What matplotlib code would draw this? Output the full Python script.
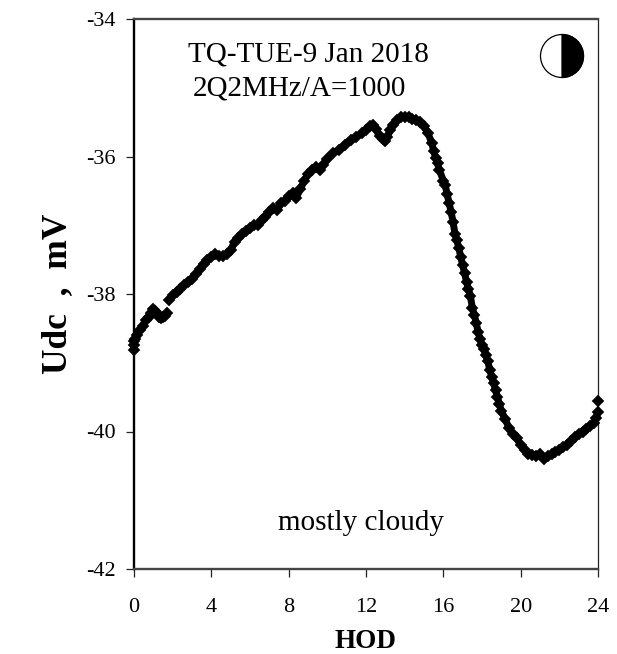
import matplotlib
matplotlib.use('Agg')
import matplotlib.pyplot as plt
from matplotlib.patches import Circle, Wedge

hod = [0.0,0.0,0.0,0.05,0.15,0.3,0.45,0.6,0.75,0.9,1.0,1.1,1.2,1.3,1.4,1.5,1.6,1.7,
       1.8,2.0,2.2,2.4,2.6,2.8,3.0,3.2,3.4,3.6,3.8,4.0,4.2,4.4,4.6,4.8,5.0,5.2,5.4,5.6,5.8,6.0,6.2,6.4,6.6,6.8,7.0,7.2,7.4,7.6,7.8,8.0,8.2,8.4,8.6,8.8,9.0,9.2,9.4,9.6,9.8,10.0,10.3,10.6,10.9,11.2,11.5,11.8,12.0,12.2,12.35,12.5,12.7,12.9,13.0,13.1,13.25,13.4,13.6,13.8,14.0,14.2,14.4,14.6,14.8,15.0,15.2,15.4,15.5,15.6,15.7,15.8,16.0,16.1,16.2,16.3,16.4,16.5,16.6,16.7,16.8,16.9,17.0,17.1,17.2,17.3,17.4,17.5,17.6,17.7,17.8,17.9,18.0,18.1,18.2,18.3,18.4,18.5,18.6,18.7,18.8,18.9,19.0,19.2,19.4,19.6,19.8,20.0,20.2,20.4,20.6,20.8,21.0,21.2,21.4,21.6,21.8,22.0,22.2,22.4,22.6,22.8,23.0,23.2,23.4,23.6,23.8,23.9,24.0,24.0]
udc = [-38.82,-38.74,-38.68,-38.66,-38.6,-38.53,-38.46,-38.38,-38.33,-38.27,-38.22,-38.24,-38.27,-38.33,-38.35,-38.34,-38.32,-38.27,
       -38.08,-38.02,-37.97,-37.92,-37.87,-37.82,-37.78,-37.71,-37.64,-37.56,-37.5,-37.46,-37.42,-37.45,-37.44,-37.42,-37.36,-37.24,-37.18,-37.12,-37.08,-37.04,-37.0,-36.99,-36.93,-36.88,-36.8,-36.75,-36.78,-36.68,-36.64,-36.58,-36.53,-36.6,-36.47,-36.36,-36.25,-36.2,-36.16,-36.2,-36.12,-36.04,-35.95,-35.9,-35.83,-35.76,-35.71,-35.66,-35.62,-35.56,-35.54,-35.6,-35.7,-35.74,-35.78,-35.72,-35.62,-35.54,-35.47,-35.43,-35.42,-35.43,-35.45,-35.47,-35.5,-35.56,-35.66,-35.8,-35.92,-36.02,-36.1,-36.2,-36.35,-36.42,-36.55,-36.68,-36.8,-36.95,-37.12,-37.22,-37.33,-37.46,-37.58,-37.7,-37.82,-37.93,-38.03,-38.2,-38.3,-38.42,-38.55,-38.66,-38.74,-38.8,-38.88,-38.98,-39.1,-39.2,-39.3,-39.4,-39.5,-39.6,-39.7,-39.82,-39.95,-40.04,-40.1,-40.2,-40.27,-40.32,-40.34,-40.35,-40.33,-40.4,-40.35,-40.33,-40.3,-40.27,-40.22,-40.2,-40.14,-40.08,-40.04,-40.0,-39.96,-39.92,-39.87,-39.8,-39.72,-39.55]

xticks = [0,4,8,12,16,20,24]
yticks = [-42,-40,-38,-36,-34]
ytick_labels = ['-42','-40','-38','-36','-34']

plt.rcParams['font.family'] = ['Liberation Serif','DejaVu Serif']
W,H = 617,654
fig = plt.figure(figsize=(W/100,H/100),dpi=100)
ax = fig.add_axes([134/W,1-569/H,(598-134)/W,(569-19)/H])
gap = 18
for a,b in ((0,gap),(gap,len(hod)-1)):
    ax.plot(hod[a:b],udc[a:b],ls='-',lw=5.0,color='black',solid_capstyle='round',clip_on=False,zorder=3)
ax.plot(hod,udc,ls='none',marker='D',ms=6.0,color='black',mew=0.3,clip_on=False,zorder=3)
ax.set_xlim(0,24); ax.set_ylim(-42,-34)
ax.set_xticks(xticks); ax.set_yticks(yticks); ax.set_yticklabels(ytick_labels)
ax.tick_params(axis='both',direction='out',length=5.5,width=0.9,labelsize=16,color='#222222')
ax.tick_params(axis='y',pad=7.5)
ax.tick_params(axis='x',pad=15.5)
ax.spines['top'].set(linewidth=1.7,color='#444444')
ax.spines['bottom'].set(linewidth=1.7,color='#444444')
ax.spines['left'].set(linewidth=1.7,color='black')
ax.spines['right'].set(linewidth=0.9,color='#222222')
fig.text(366/W,1-648/H,'HOD',fontsize=19.5,fontweight='bold',ha='center',va='baseline')
fig.text(66/W,1-294/H,'Udc  ,  mV',fontsize=25.5,fontweight='bold',rotation=90,ha='center',va='baseline',rotation_mode='anchor')
fig.text(188/W,1-62/H,'TQ-TUE-9 Jan 2018',fontsize=21,ha='left',va='baseline')
fig.text(193/W,1-95/H,'2Q2MHz/A=1000',fontsize=21,ha='left',va='baseline')
fig.text(361/W,1-530/H,'mostly cloudy',fontsize=21,ha='center',va='baseline')

moon = fig.add_axes([535/W,1-81/H,50/W,50/H]); moon.set_xlim(0,50); moon.set_ylim(50,0); moon.axis('off')
moon.add_patch(Circle((27,25),21.5,fc='white',ec='black',lw=0.9))
moon.add_patch(Wedge((27,25),21.5,-90,90,fc='black',ec='black',lw=0.9))
moon.set_aspect('equal')
fig.savefig('out.png',dpi=100)
